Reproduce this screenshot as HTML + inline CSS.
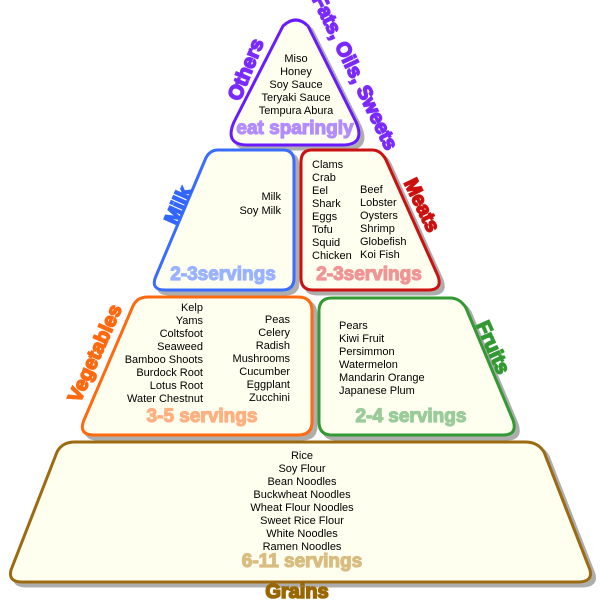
<!DOCTYPE html>
<html><head><meta charset="utf-8"><style>
html,body{margin:0;padding:0;background:#fff}
svg{display:block}
text{font-family:"Liberation Sans",Arial,sans-serif}
.i{font-size:11px;fill:#000}
.s{font-size:19px;font-weight:bold;stroke-width:1.2}
.l{font-size:20px;font-weight:900;stroke-width:1.6}
</style></head><body>
<svg width="600" height="600" viewBox="0 0 600 600" xmlns="http://www.w3.org/2000/svg">
<g fill="#fffff0" stroke-width="3" stroke-linejoin="round">
<g transform="translate(4,4)" fill="#999" stroke="#999" opacity="0.8">
<path d="M283,26 Q296,14 308,26 L356,122 Q366,145 342,145 L248,145 Q224,145 234,122 Z"/>
<path d="M218,150 L283,150 Q294,150 294,162 L294,278 Q294,290 282,290 L165,290 Q150,290 156,276 L205,160 Q209,150 218,150 Z"/>
<path d="M312,150 L372,150 Q381,150 386,160 L438,276 Q443,290 428,290 L313,290 Q301,290 301,278 L301,162 Q301,150 312,150 Z"/>
<path d="M148,297 L298,297 Q312,297 312,311 L312,422 Q312,435 298,435 L94,435 Q78,435 84,420 L133,306 Q137,297 148,297 Z"/>
<path d="M332,298 L450,298 Q460,298 466,308 L513,420 Q518,435 503,435 L332,435 Q319,435 319,422 L319,311 Q319,298 332,298 Z"/>
<path d="M75,442 L525,442 Q538,442 544,452 L590,570 Q593,582 578,582 L22,582 Q8,582 11,570 L57,452 Q62,442 75,442 Z"/>
</g>
<path stroke="#6a1aff" d="M283,26 Q296,14 308,26 L356,122 Q366,145 342,145 L248,145 Q224,145 234,122 Z"/>
<path stroke="#3a6cff" d="M218,150 L283,150 Q294,150 294,162 L294,278 Q294,290 282,290 L165,290 Q150,290 156,276 L205,160 Q209,150 218,150 Z"/>
<path stroke="#cc1111" d="M312,150 L372,150 Q381,150 386,160 L438,276 Q443,290 428,290 L313,290 Q301,290 301,278 L301,162 Q301,150 312,150 Z"/>
<path stroke="#ff6a10" d="M148,297 L298,297 Q312,297 312,311 L312,422 Q312,435 298,435 L94,435 Q78,435 84,420 L133,306 Q137,297 148,297 Z"/>
<path stroke="#339933" d="M332,298 L450,298 Q460,298 466,308 L513,420 Q518,435 503,435 L332,435 Q319,435 319,422 L319,311 Q319,298 332,298 Z"/>
<path stroke="#9c6a10" d="M75,442 L525,442 Q538,442 544,452 L590,570 Q593,582 578,582 L22,582 Q8,582 11,570 L57,452 Q62,442 75,442 Z"/>
</g>

<g class="i" text-anchor="middle">
<text x="296" y="62">Miso</text><text x="296" y="75">Honey</text><text x="296" y="88">Soy Sauce</text><text x="296" y="101">Teryaki Sauce</text><text x="296" y="114">Tempura Abura</text>
</g>
<text x="295" y="134" class="s" text-anchor="middle" fill="#b38cff" stroke="#b38cff" font-size="17">eat sparingly</text>

<g class="i" text-anchor="end">
<text x="281" y="200">Milk</text><text x="281" y="214">Soy Milk</text>
</g>
<text x="223" y="280" class="s" text-anchor="middle" fill="#99b3ff" stroke="#99b3ff">2-3servings</text>

<g class="i">
<text x="312" y="168">Clams</text><text x="312" y="181">Crab</text><text x="312" y="194">Eel</text><text x="312" y="207">Shark</text><text x="312" y="220">Eggs</text><text x="312" y="233">Tofu</text><text x="312" y="246">Squid</text><text x="312" y="259">Chicken</text>
<text x="360" y="193">Beef</text><text x="360" y="206">Lobster</text><text x="360" y="219">Oysters</text><text x="360" y="232">Shrimp</text><text x="360" y="245">Globefish</text><text x="360" y="258">Koi Fish</text>
</g>
<text x="369" y="280" class="s" text-anchor="middle" fill="#f09494" stroke="#f09494">2-3servings</text>

<g class="i" text-anchor="end">
<text x="203" y="311">Kelp</text><text x="203" y="324">Yams</text><text x="203" y="337">Coltsfoot</text><text x="203" y="350">Seaweed</text><text x="203" y="363">Bamboo Shoots</text><text x="203" y="376">Burdock Root</text><text x="203" y="389">Lotus Root</text><text x="203" y="402">Water Chestnut</text>
<text x="290" y="323">Peas</text><text x="290" y="336">Celery</text><text x="290" y="349">Radish</text><text x="290" y="362">Mushrooms</text><text x="290" y="375">Cucumber</text><text x="290" y="388">Eggplant</text><text x="290" y="401">Zucchini</text>
</g>
<text x="202" y="422" class="s" text-anchor="middle" fill="#ffb080" stroke="#ffb080">3-5 servings</text>

<g class="i">
<text x="339" y="329">Pears</text><text x="339" y="342">Kiwi Fruit</text><text x="339" y="355">Persimmon</text><text x="339" y="368">Watermelon</text><text x="339" y="381">Mandarin Orange</text><text x="339" y="394">Japanese Plum</text>
</g>
<text x="411" y="422" class="s" text-anchor="middle" fill="#99cc99" stroke="#99cc99">2-4 servings</text>

<g class="i" text-anchor="middle">
<text x="302" y="459">Rice</text><text x="302" y="472">Soy Flour</text><text x="302" y="485">Bean Noodles</text><text x="302" y="498">Buckwheat Noodles</text><text x="302" y="511">Wheat Flour Noodles</text><text x="302" y="524">Sweet Rice Flour</text><text x="302" y="537">White Noodles</text><text x="302" y="550">Ramen Noodles</text>
</g>
<text x="302" y="567" class="s" text-anchor="middle" fill="#d8bc80" stroke="#d8bc80">6-11 servings</text>

<text x="297" y="598" class="l" text-anchor="middle" fill="#996600" stroke="#996600" font-size="18">Grains</text>
<text class="l" fill="#7a2aff" stroke="#7a2aff" text-anchor="middle" transform="translate(252,72) rotate(-68)">Others</text>
<text class="l" fill="#7a2aff" stroke="#7a2aff" text-anchor="middle" font-size="15" transform="translate(349,75) rotate(64)">Fats, Oils, Sweets</text>
<text class="l" fill="#3366ff" stroke="#3366ff" text-anchor="middle" transform="translate(184,208) rotate(-66)">Milk</text>
<text class="l" fill="#cc1111" stroke="#cc1111" text-anchor="middle" transform="translate(416,208) rotate(64)">Meats</text>
<text class="l" fill="#ff6a10" stroke="#ff6a10" text-anchor="middle" transform="translate(101,356) rotate(-66)">Vegetables</text>
<text class="l" fill="#339933" stroke="#339933" text-anchor="middle" transform="translate(487,350) rotate(66)">Fruits</text>
</svg>
</body></html>
